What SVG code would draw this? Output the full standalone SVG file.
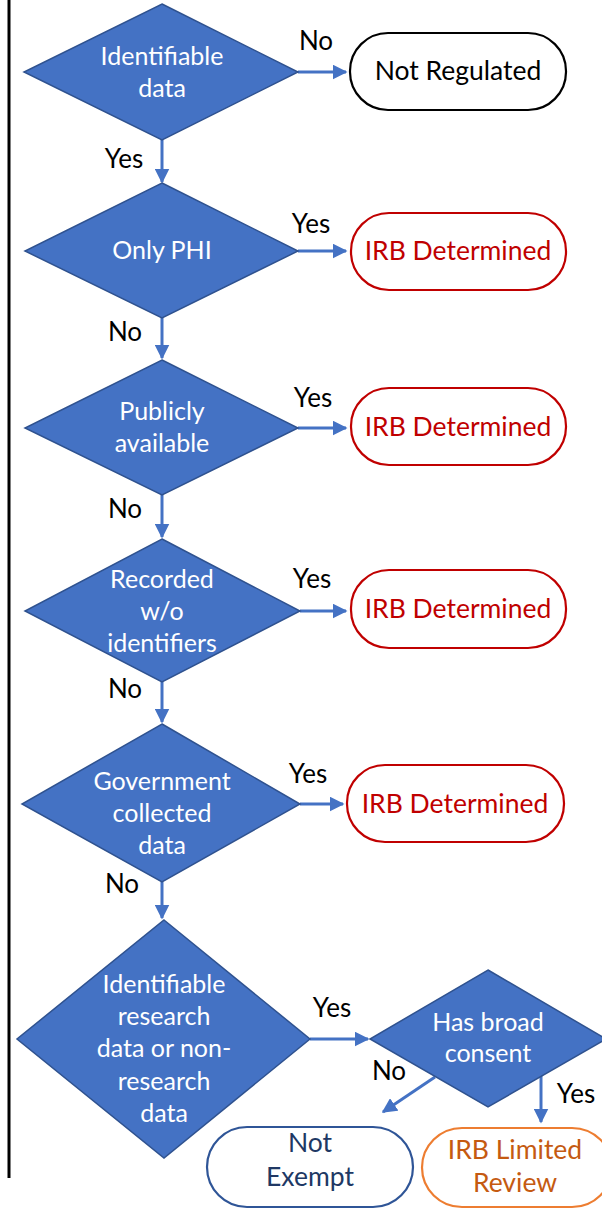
<svg xmlns="http://www.w3.org/2000/svg" width="602" height="1210" viewBox="0 0 602 1210">
<style>
.d{fill:#4472C4;stroke:#2F528F;stroke-width:1.5}
.dt{fill:#fff;font-family:Lato,"Open Sans",sans-serif;font-size:25px;text-anchor:middle}
.lb{fill:#000;font-family:Lato,"Open Sans",sans-serif;font-size:26px;text-anchor:middle}
.c{fill:none;stroke:#4472C4;stroke-width:3}
.bt{font-family:Lato,"Open Sans",sans-serif;font-size:26.5px;text-anchor:middle}
.red{fill:#fff;stroke:#C00000;stroke-width:2.2}
.redt{fill:#C00000}
</style>
<defs>
<marker id="ah" viewBox="0 0 10 10" refX="9" refY="5" markerWidth="5" markerHeight="5" orient="auto" markerUnits="strokeWidth">
<path d="M0,0 L10,5 L0,10 z" fill="#4472C4"/>
</marker>
</defs>
<rect width="602" height="1210" fill="#fff"/>
<line x1="9" y1="0" x2="9" y2="1178" stroke="#000" stroke-width="3"/>

<g id="connectors">
<line class="c" x1="298" y1="72" x2="346" y2="72" marker-end="url(#ah)"/>
<line class="c" x1="162" y1="140" x2="162" y2="182" marker-end="url(#ah)"/>
<line class="c" x1="298" y1="251" x2="346" y2="251" marker-end="url(#ah)"/>
<line class="c" x1="162" y1="318" x2="162" y2="358" marker-end="url(#ah)"/>
<line class="c" x1="298" y1="428" x2="346" y2="428" marker-end="url(#ah)"/>
<line class="c" x1="162" y1="495" x2="162" y2="537" marker-end="url(#ah)"/>
<line class="c" x1="300" y1="611" x2="346" y2="611" marker-end="url(#ah)"/>
<line class="c" x1="162" y1="682" x2="162" y2="722" marker-end="url(#ah)"/>
<line class="c" x1="300" y1="804" x2="343" y2="804" marker-end="url(#ah)"/>
<line class="c" x1="162" y1="882" x2="162" y2="918" marker-end="url(#ah)"/>
<line class="c" x1="310" y1="1039" x2="368" y2="1039" marker-end="url(#ah)"/>
<line class="c" x1="435" y1="1077" x2="383" y2="1112" marker-end="url(#ah)"/>
<line class="c" x1="541" y1="1075" x2="541" y2="1122" marker-end="url(#ah)"/>
<text class="lb" x="316" y="50">No</text>
<text class="lb" x="124" y="168">Yes</text>
<text class="lb" x="311" y="233">Yes</text>
<text class="lb" x="125" y="341">No</text>
<text class="lb" x="313" y="407">Yes</text>
<text class="lb" x="125" y="518">No</text>
<text class="lb" x="312" y="588">Yes</text>
<text class="lb" x="125" y="698">No</text>
<text class="lb" x="308" y="783">Yes</text>
<text class="lb" x="122" y="893">No</text>
<text class="lb" x="332" y="1017">Yes</text>
<text class="lb" x="389" y="1080">No</text>
<text class="lb" x="576" y="1103">Yes</text>
</g>

<g id="d1"><polygon class="d" points="162,4 298,72 162,140 24,72"/>
<text class="dt" x="162" y="65">Identifiable</text><text class="dt" x="162" y="97">data</text></g>
<g id="t1"><rect x="350" y="33" width="216" height="77" rx="38" fill="#fff" stroke="#000" stroke-width="2.2"/>
<text class="bt" x="458" y="80" fill="#000">Not Regulated</text></g>

<g id="d2"><polygon class="d" points="162,183 298,251 162,318 25,251"/>
<text class="dt" x="162" y="259">Only PHI</text></g>
<g id="t2"><rect class="red" x="351" y="213" width="215" height="77" rx="38"/>
<text class="bt redt" x="458" y="260">IRB Determined</text></g>

<g id="d3"><polygon class="d" points="162,360 298,428 162,495 25,428"/>
<text class="dt" x="162" y="420">Publicly</text><text class="dt" x="162" y="452">available</text></g>
<g id="t3"><rect class="red" x="351" y="388" width="215" height="77" rx="38"/>
<text class="bt redt" x="458" y="436">IRB Determined</text></g>

<g id="d4"><polygon class="d" points="162,539 300,611 162,682 25,611"/>
<text class="dt" x="162" y="588">Recorded</text><text class="dt" x="162" y="620">w/o</text><text class="dt" x="162" y="652">identifiers</text></g>
<g id="t4"><rect class="red" x="351" y="570" width="215" height="78" rx="38"/>
<text class="bt redt" x="458" y="618">IRB Determined</text></g>

<g id="d5"><polygon class="d" points="162,724 300,804 162,882 22,804"/>
<text class="dt" x="162" y="790">Government</text><text class="dt" x="162" y="822">collected</text><text class="dt" x="162" y="854">data</text></g>
<g id="t5"><rect class="red" x="347" y="765" width="217" height="77" rx="38"/>
<text class="bt redt" x="455" y="813">IRB Determined</text></g>

<g id="d6"><polygon class="d" points="164,920 310,1039 164,1158 17,1039"/>
<text class="dt" x="164" y="993">Identifiable</text><text class="dt" x="164" y="1025">research</text><text class="dt" x="164" y="1057">data or non-</text><text class="dt" x="164" y="1090">research</text><text class="dt" x="164" y="1122">data</text></g>

<g id="d7"><polygon class="d" points="488,970 606,1039 488,1107 370,1039"/>
<text class="dt" x="488" y="1031">Has broad</text><text class="dt" x="488" y="1062">consent</text></g>

<g id="t6"><rect x="207" y="1127" width="206" height="80" rx="40" fill="#fff" stroke="#2F5597" stroke-width="2.2"/>
<text class="bt" x="310" y="1152" fill="#203864">Not</text>
<text class="bt" x="310" y="1186" fill="#203864">Exempt</text></g>

<g id="t7"><rect x="422" y="1128" width="190" height="79" rx="40" fill="#fff" stroke="#ED7D31" stroke-width="2.2"/>
<text class="bt" x="515" y="1159" fill="#C55A11">IRB Limited</text>
<text class="bt" x="515" y="1192" fill="#C55A11">Review</text></g>
</svg>
